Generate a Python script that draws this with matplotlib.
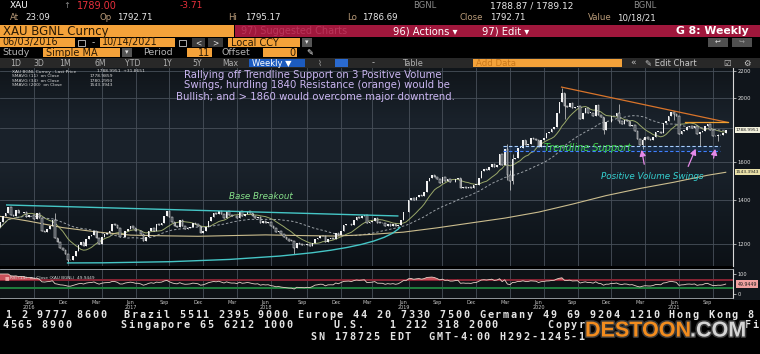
"""Bloomberg-style XAU weekly candle chart with SMA and RSI studies."""
import numpy as np
import pandas as pd
import matplotlib
matplotlib.use("Agg")
import matplotlib.pyplot as plt
import matplotlib.patheffects as pe
from matplotlib.patches import Rectangle, PathPatch
from matplotlib.path import Path
from matplotlib.colors import LinearSegmentedColormap
from matplotlib.ticker import NullLocator
from matplotlib.transforms import blended_transform_factory

# ── Data ──────────────────────────────────────────────────────────────────────
START = "2016-06-03"          # first weekly bar (Friday)
OPEN_0 = 1213
CLOSE = [
    # 2016 (Jun 3 .. Dec 30)
    1243, 1275, 1298, 1322, 1340, 1366, 1328, 1323, 1351, 1336, 1336, 1341,
    1321, 1327, 1328, 1310, 1337, 1316, 1257, 1251, 1267, 1276, 1304, 1225,
    1208, 1183, 1177, 1160, 1134, 1133, 1152,
    # 2017
    1173, 1197, 1210, 1191, 1220, 1234, 1238, 1257, 1226, 1201, 1229, 1243,
    1249, 1254, 1286, 1284, 1268, 1228, 1228, 1254, 1267, 1279, 1271, 1255,
    1256, 1242, 1212, 1228, 1254, 1269, 1258, 1289, 1284, 1291, 1325, 1346,
    1320, 1297, 1280, 1275, 1304, 1280, 1266, 1269, 1275, 1293, 1288, 1280,
    1248, 1256, 1275, 1303,
    # 2018
    1320, 1338, 1332, 1349, 1333, 1316, 1347, 1330, 1322, 1324, 1313, 1347,
    1325, 1332, 1345, 1336, 1323, 1315, 1320, 1291, 1301, 1294, 1298, 1278,
    1270, 1251, 1255, 1241, 1231, 1223, 1214, 1212, 1184, 1206, 1201, 1197,
    1194, 1199, 1192, 1203, 1222, 1227, 1235, 1233, 1209, 1222, 1223, 1222,
    1248, 1238, 1257, 1281,
    # 2019
    1285, 1288, 1282, 1304, 1318, 1314, 1322, 1328, 1294, 1298, 1302, 1313,
    1292, 1291, 1290, 1276, 1286, 1280, 1286, 1277, 1284, 1305, 1341, 1341,
    1400, 1409, 1400, 1415, 1426, 1419, 1440, 1497, 1513, 1527, 1520, 1507,
    1488, 1517, 1497, 1505, 1489, 1490, 1505, 1514, 1459, 1468, 1462, 1464,
    1460, 1476, 1478, 1511,
    # 2020
    1552, 1562, 1557, 1571, 1589, 1570, 1584, 1643, 1585, 1674, 1530, 1498,
    1617, 1620, 1683, 1683, 1727, 1700, 1703, 1743, 1735, 1730, 1684, 1730,
    1743, 1771, 1775, 1799, 1810, 1902, 1975, 2035, 1944, 1940, 1964, 1934,
    1941, 1950, 1862, 1900, 1930, 1900, 1902, 1879, 1952, 1889, 1871, 1788,
    1839, 1839, 1881, 1878,
    # 2021 (Jan 1 .. Oct 22)
    1898, 1850, 1828, 1856, 1848, 1814, 1824, 1784, 1734, 1700, 1727, 1745,
    1733, 1729, 1744, 1777, 1777, 1769, 1831, 1844, 1881, 1905, 1891, 1877,
    1764, 1781, 1787, 1808, 1812, 1802, 1814, 1763, 1780, 1781, 1817, 1828,
    1788, 1754, 1750, 1761, 1757, 1768, 1789,
]

# weeks with notable intraweek extremes
WICK_WEEK = ["2016-11-11", "2016-12-16", "2018-08-17", "2020-03-13",
             "2020-03-20", "2020-03-27", "2020-08-07", "2020-08-14",
             "2020-11-27", "2021-01-08", "2021-03-12", "2021-06-04",
             "2021-08-13", "2021-10-01"]
WICK_HIGH = [1338, 1140, 1196, 1703, 1557, 1645, 2075, 2015,
             1830, 1959, 1739, 1916, 1780, 1764]
WICK_LOW = [1240, 1122, 1160, 1504, 1451, 1482, 1999, 1863,
            1764, 1836, 1677, 1855, 1690, 1721]

# 200-week SMA (quarterly)
SMA200_WEEK = ["2016-06-03", "2016-09-02", "2016-12-02", "2017-03-03",
               "2017-06-02", "2017-09-01", "2017-12-01", "2018-03-02",
               "2018-06-01", "2018-09-07", "2018-12-07", "2019-03-01",
               "2019-06-07", "2019-09-06", "2019-12-06", "2020-03-06",
               "2020-06-05", "2020-09-04", "2020-12-04", "2021-03-05",
               "2021-06-04", "2021-09-03", "2021-10-22"]
SMA200_VAL = [1326, 1300, 1271, 1252, 1238, 1235, 1233, 1236, 1239, 1236,
              1234, 1240, 1251, 1270, 1292, 1314, 1342, 1380, 1422, 1458,
              1490, 1527, 1543]

PRICE_TICKS = [1200, 1400, 1600, 2000, 2200]
RSI_TICKS = [0, 100]

# ── Palette ───────────────────────────────────────────────────────────────────
ORANGE = "#f4a23a"
CRIMSON = "#a0173c"
BAR_GRAY = "#282828"
BLUE_BTN = "#1c5bbf"
TXT_DARK = "#2a1a05"
TXT_GRAY = "#b0b0b0"
LABEL_TAN = "#b89a78"
CANDLE = "#f2f2f2"
GRID = "#48505a"
LAVENDER = "#cbb6f2"
TEAL = "#45c6c6"
RES_ORANGE = "#d9742a"

W, H = 760, 354

# ── Derived series ────────────────────────────────────────────────────────────
dates = pd.date_range(START, periods=len(CLOSE), freq="W-FRI")
x = np.arange(len(CLOSE))
close = np.array(CLOSE, dtype=float)
opn = np.r_[OPEN_0, close[:-1]]
high = np.maximum(opn, close)
low = np.minimum(opn, close)
for d, h, l in zip(WICK_WEEK, WICK_HIGH, WICK_LOW):
    i = dates.get_loc(pd.Timestamp(d))
    high[i] = max(high[i], h)
    low[i] = min(low[i], l)

s = pd.Series(close)
sma11 = s.rolling(11, min_periods=1).mean()
sma34 = s.rolling(34, min_periods=1).mean()
delta = s.diff()
gain = delta.clip(lower=0).ewm(alpha=1 / 14, adjust=False).mean()
loss = (-delta.clip(upper=0)).ewm(alpha=1 / 14, adjust=False).mean()
rsi = (100 - 100 / (1 + gain / loss)).fillna(50).values


def wk(d):
    """Fractional weekly-bar index of a date."""
    return (pd.Timestamp(d) - pd.Timestamp(START)).days / 7.0


# ── Figure & UI chrome ────────────────────────────────────────────────────────
fig = plt.figure(figsize=(W / 100, H / 100), dpi=100, facecolor="black")
ui = fig.add_axes([0, 0, 1, 1], zorder=-1)
ui.set_xlim(0, W)
ui.set_ylim(H, 0)
ui.axis("off")


def box(x0, y0, x1, y1, color, **kw):
    ui.add_patch(Rectangle((x0, y0), x1 - x0, y1 - y0, facecolor=color,
                           edgecolor=kw.pop("ec", "none"), lw=kw.pop("lw", 0), **kw))


def txt(x0, y0, s_, size=6.5, color="white", **kw):
    kw.setdefault("va", "center")
    ui.text(x0, y0, s_, fontsize=size, color=color, **kw)


def ftxt(x0, y0, s_, size=4, color="white", **kw):
    """Figure-level text in pixel coords (drawn above the chart axes)."""
    kw.setdefault("va", "center")
    fig.text(x0 / W, 1 - y0 / H, s_, fontsize=size, color=color, **kw)


# row 1 – quote line
txt(10, 6, "XAU", 6.5)
txt(63, 6, "↑", 6, "#8a8a8a")
txt(77, 6, "1789.00", 7, "#e8303c")
txt(180, 6, "-3.71", 6.5, "#e8303c")
txt(413, 6, "BGNL", 6, "#8c8c8c")
txt(490, 6, "1788.87 / 1789.12", 6.5, "#e8e8e8")
txt(633, 6, "BGNL", 6, "#8c8c8c")

# row 2 – OHLC
for lab, lx, val, vx in [("At", 10, "23:09", 25), ("Op", 100, "1792.71", 117),
                         ("Hi", 228, "1795.17", 245), ("Lo", 347, "1786.69", 362),
                         ("Close", 460, "1792.71", 490),
                         ("Value", 588, "10/18/21", 617)]:
    txt(lx, 18, lab, 6.2, LABEL_TAN)
    txt(vx, 18, val, 6.2, "#e8e8e8")

# row 3 – ticker / actions bar
box(0, 25, 234, 37, ORANGE)
box(235, 25, 760, 37, CRIMSON)
txt(3, 31.5, "XAU BGNL Curncy", 8.5, TXT_DARK)
txt(241, 31.5, "97) Suggested Charts", 7, "#b9355a")
txt(393, 31.5, "96) Actions ▾", 7.2, "white")
txt(482, 31.5, "97) Edit ▾", 7.2, "white")
txt(749, 31.5, "G 8: Weekly", 7.8, "white", ha="right", fontweight="bold")

# row 4 – date range
box(0, 38, 75, 47, ORANGE)
txt(2, 42.5, "06/03/2016", 7, TXT_DARK)
box(78, 39.5, 85, 46, "none", ec="#c8c8c8", lw=0.6)
txt(93, 42.5, "-", 6.5, "#d0d0d0", ha="center")
box(100, 38, 175, 47, ORANGE)
txt(102, 42.5, "10/14/2021", 7, TXT_DARK)
box(179, 39.5, 186, 46, "none", ec="#c8c8c8", lw=0.6)
box(192, 38, 205, 47, "#3a3a3a")
txt(198.5, 42.5, "<", 5.5, "#e0e0e0", ha="center")
box(208, 38, 223, 47, "#3a3a3a")
txt(215.5, 42.5, ">", 5.5, "#e0e0e0", ha="center")
box(228, 38, 300, 47, ORANGE)
txt(231, 42.5, "Local CCY", 7, TXT_DARK)
box(302, 38, 312, 47, "#555555")
txt(307, 42.5, "▾", 5, "#e0e0e0", ha="center")
box(708, 38, 728, 46.5, "#505050")
txt(718, 42.2, "↩", 5, "#e0e0e0", ha="center")
box(732, 38, 752, 46.5, "#505050")
txt(742, 42.2, "↪", 5, "#9a9a9a", ha="center")

# row 5 – study
txt(2, 52.5, "Study", 6.8, TXT_GRAY)
box(43, 48, 120, 57, ORANGE)
txt(46, 52.5, "Simple MA", 7, TXT_DARK)
box(122, 48, 132, 57, "#555555")
txt(127, 52.5, "▾", 5, "#e0e0e0", ha="center")
txt(143, 52.5, "Period", 6.8, TXT_GRAY)
box(187, 48, 212, 57, ORANGE)
txt(210, 52.5, "11", 7, TXT_DARK, ha="right")
txt(222, 52.5, "Offset", 6.8, TXT_GRAY)
box(263, 48, 297, 57, ORANGE)
txt(295, 52.5, "0", 7, TXT_DARK, ha="right")
txt(306, 52.5, "✎", 6, "white")

# row 6 – toolbar
box(0, 58, 760, 67.5, BAR_GRAY)
for lab, cx in [("1D", 16), ("3D", 39), ("1M", 65), ("6M", 100), ("YTD", 133),
                ("1Y", 167), ("5Y", 197), ("Max", 230)]:
    txt(cx, 63, lab, 5.6, TXT_GRAY, ha="center")
box(249, 58.5, 305, 67, BLUE_BTN)
txt(252, 63, "Weekly ▼", 6, "white")
txt(318, 63, "⌇", 6, "#a0a0a0")
box(335, 58.5, 348, 67, "#2a6ad0")
txt(373, 63, "-", 6, "#c0c0c0", ha="center")
txt(412, 63, "Table", 5.8, TXT_GRAY, ha="center")
box(473, 58.5, 622, 67, ORANGE)
txt(476, 63, "Add Data", 6.2, "#c9781a")
txt(633, 63, "«", 6.5, "#c8c8c8", ha="center")
txt(645, 63, "✎ Edit Chart", 6, "#c8c8c8")
txt(727, 63, "☑", 6, "#c8c8c8", ha="center")
txt(747, 63, "⚙", 6, "#c8c8c8", ha="center")

# right price-label strip
box(733, 68, 760, 300, "#10151b")


# ── Chart axes ────────────────────────────────────────────────────────────────
def px_axes(x0, y0, x1, y1):
    return fig.add_axes([x0 / W, 1 - y1 / H, (x1 - x0) / W, (y1 - y0) / H])


ax = px_axes(0, 68, 733, 266)
ra = px_axes(0, 269, 733, 298)

XLIM = (1.85, 283.8)
bg = LinearSegmentedColormap.from_list(
    "bg", ["#0c1116", "#121920", "#1a222b", "#19212a", "#10151a"])
grad = np.linspace(1, 0, 256).reshape(-1, 1)
ax.imshow(grad, cmap=bg, aspect="auto", extent=(0, 1, 0, 1),
          transform=ax.transAxes, zorder=0)
ax.set_yscale("log")
ax.set_xlim(*XLIM)
ax.set_ylim(1111, 2224)

# quarter labels: first weekly bar of Mar / Jun / Sep / Dec inside the view
q_idx, q_lab = [], []
for i, d in enumerate(dates):
    if i < XLIM[0]:
        continue
    if d.month in (3, 6, 9, 12) and d.day <= 7:
        q_idx.append(i)
        name = d.strftime("%b")
        if d.month == 6 or not q_lab:
            name += "\n" + d.strftime("%Y")
        q_lab.append(name)
grid_idx = [i + 2 for i in q_idx]

for a in (ax, ra):
    for gx in grid_idx:
        a.axvline(gx, color=GRID, lw=0.6, zorder=1)
for p in [1200, 1400, 1600, 1800, 2000, 2200]:
    ax.axhline(p, color=GRID, lw=0.6, zorder=1)

# candles
up = close >= opn
ax.vlines(x, low, high, color="#d8d8d8", lw=0.5, zorder=4)
body = np.maximum(np.abs(close - opn), close * 0.0025)
ax.bar(x[up], body[up], bottom=opn[up], width=0.62, color=CANDLE,
       lw=0, zorder=5)
ax.bar(x[~up], body[~up], bottom=close[~up], width=0.62, facecolor="#3a4048",
       edgecolor=CANDLE, lw=0.35, zorder=5)

# moving averages
ax.plot(x, sma11, color="#9aa86a", lw=0.7, zorder=3)
ax.plot(x, sma34, color="#9aa0a6", lw=0.7, ls=(0, (2.5, 2)), zorder=3)
ax.plot([wk(d) for d in SMA200_WEEK], SMA200_VAL, color="#cbbd8e", lw=0.8,
        zorder=3)

# ── Annotations ───────────────────────────────────────────────────────────────
# base breakout: flat resistance + rounding bottom
ax.plot([wk("2016-07-04"), wk("2019-05-23")], [1376, 1324], color=TEAL,
        lw=1.0, zorder=6)
base = Path([(wk("2016-12-13"), 1123), (wk("2019-03-09"), 1123),
             (wk("2019-05-30"), 1274)],
            [Path.MOVETO, Path.CURVE3, Path.CURVE3])
ax.add_patch(PathPatch(base, fc="none", ec=TEAL, lw=1.0, zorder=6))
ax.text(wk("2018-05-20"), 1418, "Base Breakout", color="#86e08a",
        fontsize=6.3, style="italic", ha="center", va="center", zorder=7)

# descending resistance and 1840 level
ax.plot([wk("2020-08-06"), wk("2021-10-27")], [2080, 1838], color=RES_ORANGE,
        lw=0.9, zorder=6)
ax.plot([wk("2021-07-05"), wk("2021-10-27")], [1840, 1840], color="#f0a030",
        lw=0.9, zorder=6)

# trendline support band
sup_x = [wk("2020-03-01"), wk("2021-10-06")]
ax.fill_between(sup_x, 1662, 1692, color="#1b3a66", alpha=0.45, lw=0, zorder=2)
ax.plot(sup_x, [1692, 1692], color="#a8cfff", lw=0.8, ls=(0, (3, 2)), zorder=6)
ax.plot(sup_x, [1662, 1662], color="#3f7fff", lw=0.8, ls=(0, (3, 2)), zorder=6)
ax.text(wk("2020-10-16"), 1680, "Trendline Support", color="#3fd24a",
        fontsize=7, style="italic", ha="center", va="center", zorder=7)

# positive volume swing arrows
for tail, head in [(("2021-03-18", 1572), ("2021-03-08", 1685)),
                   (("2021-07-10", 1561), ("2021-08-05", 1691)),
                   (("2021-09-18", 1606), ("2021-09-25", 1691))]:
    ax.annotate("", xy=(wk(head[0]), head[1]), xytext=(wk(tail[0]), tail[1]),
                arrowprops=dict(arrowstyle="-|>,head_length=0.35,head_width=0.18",
                                color="#e58ae8", lw=0.9), zorder=7)
ax.text(wk("2021-04-06"), 1522, "Positive Volume Swings", color="#35d0d0",
        fontsize=6.3, style="italic", ha="center", va="center", zorder=7)

# price axis
ax.yaxis.tick_right()
ax.yaxis.set_minor_locator(NullLocator())
ax.set_yticks(PRICE_TICKS)
ax.set_yticklabels([str(p) for p in PRICE_TICKS])
ax.tick_params(axis="y", which="both", length=2, width=0.5, colors="#e0e0e0",
               labelsize=3.8, pad=1.5)
ax.set_xticks([])
for sp in ax.spines.values():
    sp.set_visible(False)
ax.spines["right"].set_visible(True)
ax.spines["right"].set_color("#d8d8d8")
ax.spines["right"].set_linewidth(0.8)

yblend = blended_transform_factory(ax.transAxes, ax.transData)
ax.text(1.004, 1789, "1788.9951", transform=yblend, fontsize=3.2,
        color="#202020", va="center", ha="left",
        bbox=dict(boxstyle="square,pad=0.25", fc="#f2f0dc", ec="none"))
ax.text(1.004, 1543, "1543.3943", transform=yblend, fontsize=3.2,
        color="#202020", va="center", ha="left",
        bbox=dict(boxstyle="square,pad=0.25", fc="#e9e0a8", ec="none"))

# ── RSI panel ─────────────────────────────────────────────────────────────────
ra.set_facecolor("#0e1216")
ra.set_xlim(*XLIM)
ra.set_ylim(-20, 125)
ra.axhline(70, color="#8a2434", lw=1.4, zorder=2)
ra.axhline(30, color="#1f7f3e", lw=1.4, zorder=2)
ra.fill_between(x, 70, rsi, where=rsi > 70, interpolate=True,
                color="#c8505a", lw=0, zorder=3)
ra.plot(x, rsi, color="#e6cfc6", lw=0.6, zorder=4)
ra.yaxis.tick_right()
ra.set_yticks(RSI_TICKS)
ra.set_yticklabels([str(v) for v in RSI_TICKS])
ra.tick_params(axis="y", length=2, width=0.5, colors="#e0e0e0",
               labelsize=3.6, pad=1.5)
ra.set_xticks(q_idx)
ra.set_xticklabels(q_lab, linespacing=1.0)
ra.tick_params(axis="x", length=0, colors="#c8c8c8", labelsize=3.5, pad=1.5)
for sp in ra.spines.values():
    sp.set_color("#a8aeb4")
    sp.set_linewidth(0.6)
ra.spines["left"].set_visible(False)
ra.spines["right"].set_color("#d8d8d8")
ra.spines["right"].set_linewidth(0.8)
rblend = blended_transform_factory(ra.transAxes, ra.transData)
ra.text(1.006, 50, "49.9449", transform=rblend, fontsize=3.4,
        color="#202020", va="center", ha="left",
        bbox=dict(boxstyle="square,pad=0.25", fc="#f0a0a0", ec="none"))

# ── Legends / headline text (above axes) ──────────────────────────────────────
ftxt(313, 75, "Rallying off Trendline Support on 3 Positive Volume", 7.3,
     LAVENDER, ha="center")
ftxt(317, 85.5, "Swings, hurdling 1840 Resistance (orange) would be", 7.3,
     LAVENDER, ha="center")
ftxt(315, 96.5, "Bullish; and > 1860 would overcome major downtrend.", 7.3,
     LAVENDER, ha="center")

legend_rows = [("XAU BGNL Curncy - Last Price", "1788.9951  +31.8651", CANDLE, True),
               ("SMAVG (11)  on Close", "1778.9859", "#9aa86a", True),
               ("SMAVG (34)  on Close", "1780.2993", "#9aa0a6", False),
               ("SMAVG (200)  on Close", "1543.3943", "#cbbd8e", False)]
for k, (lab, val, col, filled) in enumerate(legend_rows):
    yy = 71.5 + k * 4.6
    ui.add_patch(Rectangle((6.5, yy - 1.6), 3.2, 3.2, zorder=10,
                           facecolor=col if filled else "none",
                           edgecolor=col, lw=0.4, transform=ui.transData))
    ftxt(12, yy, lab, 3.2, "#d8d8d8")
    ftxt(90 if k else 97, yy, val, 3.2, "#d8d8d8")
ftxt(5, 278, "■", 3.5, "#f0a8a8")
ftxt(10, 278, "RSI (14)  on Close (XAU BGNL)  49.9449", 3.1, "#d8d8d8")

# ── Footer (watermark covers part of rows 2-3) ────────────────────────────────
PITCH = 7.9
footer = [(5.1, 314.5, "1 2 9777 8600  Brazil 5511 2395 9000 Europe 44 20 "
                       "7330 7500 Germany 49 69 9204 1210 Hong Kong 85"),
          (2, 325.5, "4565 8900      Singapore 65 6212 1000     U.S.   1 212 "
                     "318 2000      Copyright 2021 Bloomberg Finance L.P."),
          (310, 336.5, "SN 178725 EDT  GMT-4:00 H292-1245-1 18-Oct-2021 23:09:56")]
hidden = {1: (580, 744), 2: (580, 752)}   # span behind the watermark
for row, (x0, y0, line) in enumerate(footer):
    for k, ch in enumerate(line):
        cx = x0 + k * PITCH
        if ch == " " or cx > W - 6:
            continue
        if row in hidden and hidden[row][0] < cx < hidden[row][1]:
            continue
        txt(cx, y0, ch, 7.3, "#e4e4e4", family="DejaVu Sans Mono",
            fontweight="bold", ha="left")

# watermark
stroke = [pe.withStroke(linewidth=2.2, foreground="#3a3a3a")]
ftxt(585, 331, "DESTOON", 15.5, "#f28c1e", family="Liberation Sans",
     fontweight="bold", ha="left", path_effects=stroke)
ftxt(690, 331, ".COM", 15.5, "#d4d4d4", family="Liberation Sans",
     fontweight="bold", ha="left", path_effects=stroke)

fig.savefig("out.png", dpi=100, facecolor="black")
